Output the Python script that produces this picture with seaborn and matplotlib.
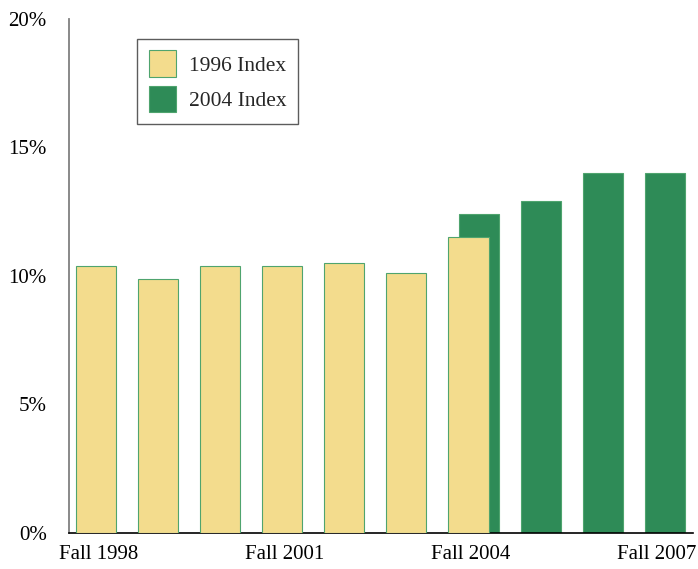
import numpy as np
import matplotlib
matplotlib.use('Agg')
import matplotlib.pyplot as plt
import seaborn as sns
from matplotlib.ticker import FuncFormatter

terms = ['Fall 1998', 'Fall 1999', 'Fall 2000', 'Fall 2001', 'Fall 2002',
         'Fall 2003', 'Fall 2004', 'Fall 2005', 'Fall 2006', 'Fall 2007']
index_1996 = [10.4, 9.9, 10.4, 10.4, 10.5, 10.1, 11.5]
index_2004 = [12.4, 12.9, 14.0, 14.0]
shown_ticks = ['Fall 1998', 'Fall 2001', 'Fall 2004', 'Fall 2007']

colors = {
    '1996 Index': '#F3DC8D',
    '2004 Index': '#2E8B57',
}
edge = '#4FA46E'

sns.set_style('white')
plt.rcParams['font.family'] = ['Liberation Serif', 'DejaVu Serif']

fig = plt.figure(figsize=(6.98, 5.69), dpi=100)
ax = fig.add_axes([0.0989, 0.0633, 0.894, 0.9033])

pos = np.arange(len(terms))
width = 0.645

# 2004 index series sits slightly to the right, behind the 1996 bar at Fall 2004
x04 = pos[len(index_1996) - 1:] + 0.17
ax.bar(x04, index_2004, width=width, color=colors['2004 Index'],
       edgecolor=edge, linewidth=0.8, label='2004 Index', zorder=2)
ax.bar(pos[:len(index_1996)], index_1996, width=width,
       color=colors['1996 Index'], edgecolor=edge, linewidth=0.8,
       label='1996 Index', zorder=3)

ax.set_xlim(-0.44, 9.62)
ax.set_ylim(0, 20)
ax.set_yticks([0, 5, 10, 15, 20])
ax.yaxis.set_major_formatter(FuncFormatter(lambda v, _: f'{v:.0f}%'))
ax.set_xticks([pos[terms.index(t)] + 0.04 for t in shown_ticks])
ax.set_xticklabels(shown_ticks)
ax.tick_params(axis='both', length=0, labelsize=15, colors='black')
ax.tick_params(axis='y', pad=16)
ax.tick_params(axis='x', pad=9)

for side in ['top', 'right']:
    ax.spines[side].set_visible(False)
ax.spines['left'].set_color('#808080')
ax.spines['left'].set_linewidth(1.3)
ax.spines['bottom'].set_color('black')
ax.spines['bottom'].set_linewidth(1.2)

handles, labels = ax.get_legend_handles_labels()
leg = ax.legend(handles[::-1], labels[::-1], loc='upper left',
                bbox_to_anchor=(0.1087, 0.962), fontsize=15.5,
                frameon=True, fancybox=False, edgecolor='#333333',
                handlelength=1.25, handleheight=1.5, handletextpad=0.6,
                borderpad=0.55, labelspacing=0.42, borderaxespad=0)
leg.get_frame().set_linewidth(1.0)

fig.savefig('out.png', dpi=100)
